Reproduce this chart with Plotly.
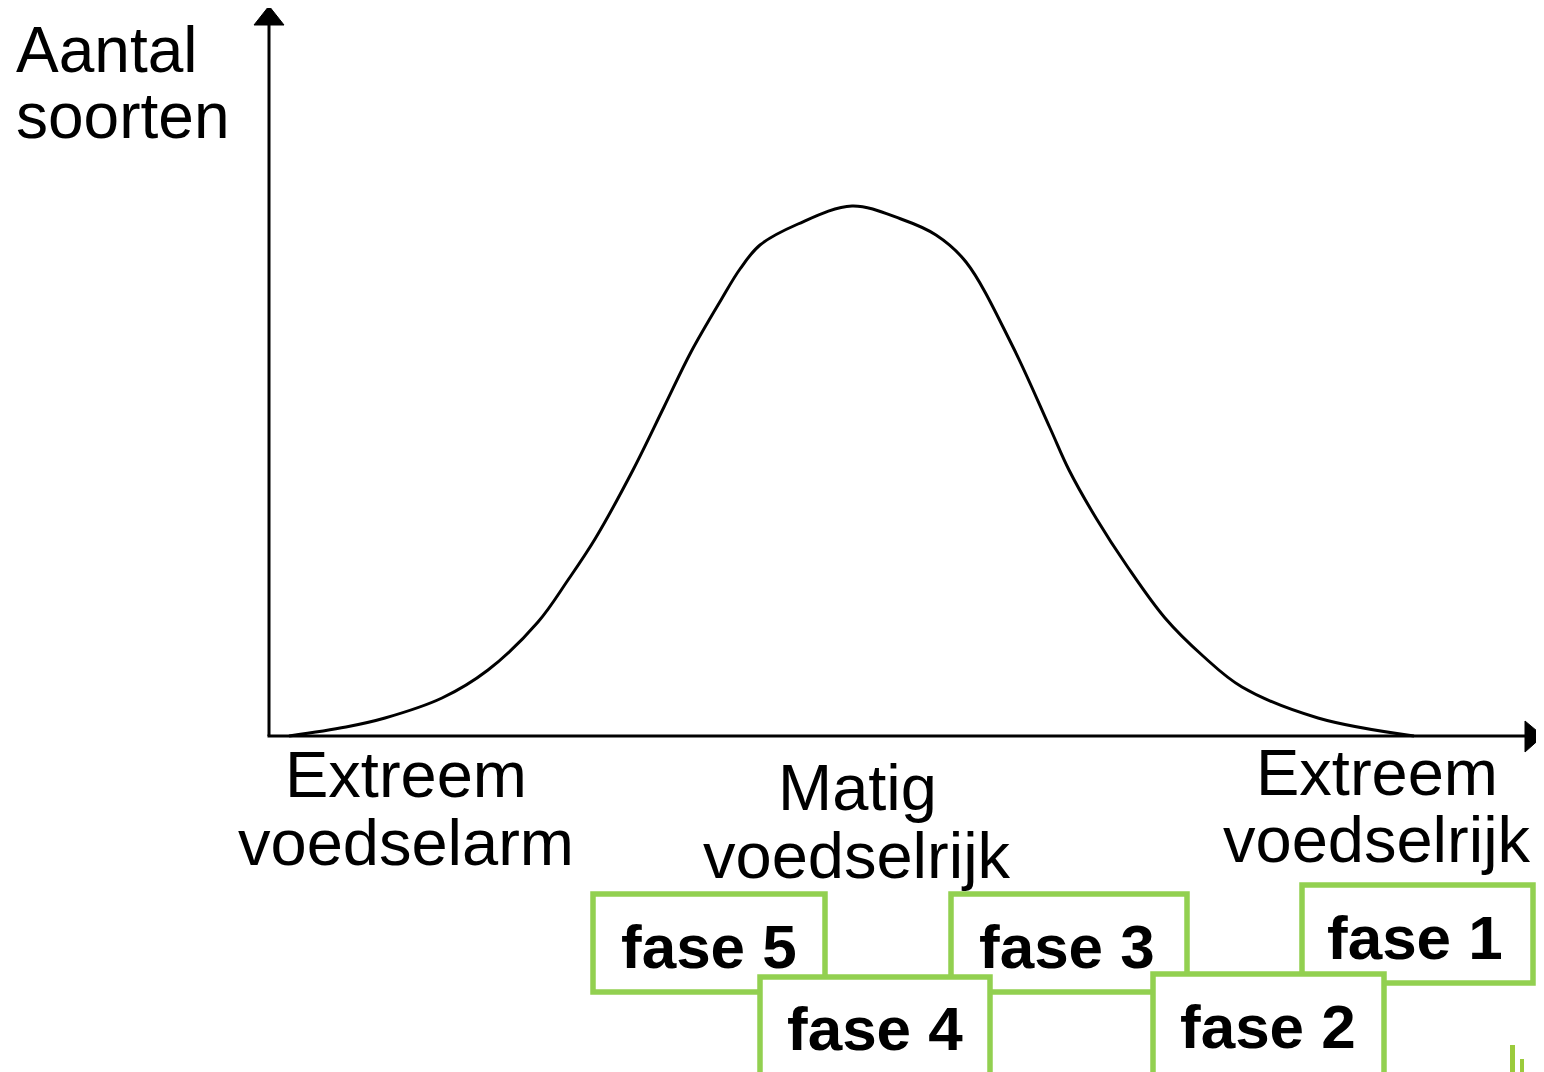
import plotly.graph_objects as go

# ---- data (x: voedselrijkdom, y: aantal soorten) ----
curve_x = [289, 346, 385, 442, 488, 538, 568, 595, 633, 664, 691, 721, 740, 760, 798, 852,
           901, 936, 966, 1012, 1050, 1069, 1096, 1127, 1165, 1203, 1242, 1318, 1414]
curve_y = [0, 9, 18, 38, 66, 114, 156, 197, 266, 329, 384, 436, 467, 491, 512, 530,
           517, 501, 474, 391, 308, 266, 218, 170, 118, 80, 49, 18, 0]

y_title = ["Aantal", "soorten"]
x_labels = [["Extreem", "voedselarm"], ["Matig", "voedselrijk"], ["Extreem", "voedselrijk"]]
phases = ["fase 5", "fase 3", "fase 1", "fase 4", "fase 2"]

# ---- layout helpers (positions in the chart's coordinate frame) ----
H0 = 736  # y of the x axis in page pixels
OFF = 8   # page body margin
def py(v):
    return H0 - v

x_label_pos = [(406, 797, 865), (857, 810, 878), (1377, 795, 862)]
phase_boxes = [(593, 894, 825, 992), (951, 894, 1187, 992), (1302, 885, 1533, 983),
               (760, 977, 990, 1085), (1153, 974, 1384, 1085)]
phase_text = [(709, 968), (1067, 968), (1415, 959), (875, 1050), (1268, 1048)]

GREEN = "#92D050"
FONT = "Liberation Sans, Arial, sans-serif"
S = 65
SB = 62

fig = go.Figure()
fig.add_trace(go.Scatter(x=curve_x, y=curve_y, mode="lines",
                         line=dict(color="black", width=3, shape="spline", smoothing=1.0),
                         hoverinfo="skip", showlegend=False))

shapes = []
# axes
shapes.append(dict(type="line", x0=269, x1=269, y0=0, y1=py(22), line=dict(color="black", width=3)))
shapes.append(dict(type="path", path=f"M 269 {py(6)} L 254 {py(25)} L 284 {py(25)} Z",
                   fillcolor="black", line=dict(color="black", width=1)))
shapes.append(dict(type="line", x0=267.5, x1=1528, y0=0, y1=0, line=dict(color="black", width=3)))
shapes.append(dict(type="path", path=f"M 1543 0 L 1525 {py(721)} L 1525 {py(752)} Z",
                   fillcolor="black", line=dict(color="black", width=1)))
# phase boxes
for (x0, y0, x1, y1) in phase_boxes:
    shapes.append(dict(type="rect", x0=x0, x1=x1, y0=py(y0), y1=py(y1),
                       fillcolor="white", line=dict(color=GREEN, width=5.5)))
# partial logo at corner
shapes.append(dict(type="rect", x0=1510, x1=1515, y0=py(1045), y1=py(1075),
                   fillcolor="#9BCB3C", line=dict(width=0)))
shapes.append(dict(type="rect", x0=1520, x1=1524, y0=py(1059), y1=py(1075),
                   fillcolor="#9BCB3C", line=dict(width=0)))

ann = []
for i, t in enumerate(y_title):
    base = [72, 138][i]
    ann.append(dict(x=14, y=py(base - 0.35 * 64), text=t, xanchor="left", yanchor="middle",
                    showarrow=False, font=dict(family=FONT, size=64, color="black")))
for (cx, b1, b2), lines in zip(x_label_pos, x_labels):
    for b, t in zip((b1, b2), lines):
        ann.append(dict(x=cx, y=py(b - 0.35 * S), text=t, xanchor="center", yanchor="middle",
                        showarrow=False, font=dict(family=FONT, size=S, color="black")))
for (cx, b), t in zip(phase_text, phases):
    ann.append(dict(x=cx, y=py(b - 0.35 * SB), text=f"<b>{t}</b>", xanchor="center",
                    yanchor="middle", showarrow=False,
                    font=dict(family=FONT, size=SB, color="black")))

fig.update_layout(
    width=1544, height=1072,
    margin=dict(l=0, r=0, t=0, b=0),
    paper_bgcolor="white", plot_bgcolor="white",
    xaxis=dict(range=[OFF, 1544 + OFF], visible=False, fixedrange=True),
    yaxis=dict(range=[H0 - 1072 - OFF, H0 - OFF], visible=False, fixedrange=True),
    shapes=shapes, annotations=ann, showlegend=False,
)
fig.write_html("out.html")
